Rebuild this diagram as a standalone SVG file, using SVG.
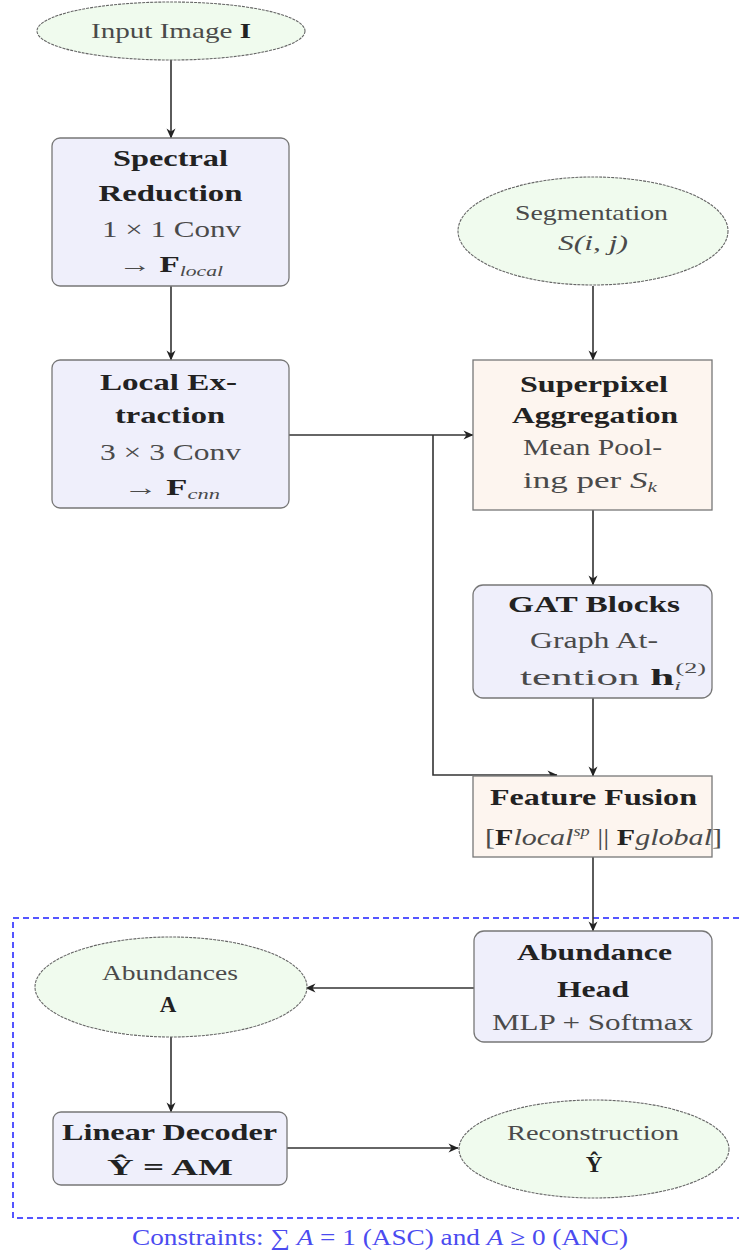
<svg xmlns="http://www.w3.org/2000/svg" width="739" height="1257" viewBox="0 0 739 1257">
<defs>
<marker id="ah" viewBox="0 0 10 10" refX="9.5" refY="5" markerWidth="11" markerHeight="10" markerUnits="userSpaceOnUse" orient="auto">
<path d="M0,0.5 L10,5 L0,9.5 L3,5 Z" fill="#222"/>
</marker>
<style>
.box{stroke:#777;stroke-width:1.3}
.blue{fill:#efeffb}
.orange{fill:#fdf5ef}
.ell{fill:#f0fbee;stroke:#666;stroke-width:1.1;stroke-dasharray:3 1}
.t{font-family:"Liberation Serif","Times New Roman",serif;font-size:23px;fill:#4a4a4a;text-anchor:middle}
.b{font-weight:bold;fill:#222}
.e{font-size:21px}
.i{font-style:italic}
.edge{stroke:#333;stroke-width:1.6;fill:none;marker-end:url(#ah)}
</style>
</defs>
<rect width="739" height="1257" fill="#fff"/>

<rect id="loss-region" x="13" y="918" width="740" height="300" fill="none" stroke="#5555ff" stroke-width="2" stroke-dasharray="6 4"/>

<g id="connectors">
<path class="edge" d="M171,60 V138"/>
<path class="edge" d="M171,286 V360"/>
<path class="edge" d="M593,286 V360"/>
<path class="edge" d="M289,435 H473"/>
<path class="edge" d="M433,435 V775 H557"/>
<path class="edge" d="M593,510 V585"/>
<path class="edge" d="M593,698 V776"/>
<path class="edge" d="M593,857 V931"/>
<path class="edge" d="M474,988 H306"/>
<path class="edge" d="M171,1037 V1112"/>
<path class="edge" d="M287,1148 H458"/>
</g>

<g id="input">
<ellipse class="ell" cx="171" cy="31" rx="134" ry="29"/>
<text class="t e" x="171" y="38" textLength="160" lengthAdjust="spacingAndGlyphs">Input Image <tspan class="b">I</tspan></text>
</g>

<g id="spectral">
<rect class="box blue" x="52" y="138" width="237" height="148" rx="8"/>
<text class="t b" x="170.5" y="166" textLength="115" lengthAdjust="spacingAndGlyphs">Spectral</text>
<text class="t b" x="170.5" y="201" textLength="144" lengthAdjust="spacingAndGlyphs">Reduction</text>
<text class="t" x="171.5" y="237" textLength="139" lengthAdjust="spacingAndGlyphs">1 × 1 Conv</text>
<text class="t" x="170.5" y="272" textLength="105" lengthAdjust="spacingAndGlyphs">→ <tspan class="b">F</tspan><tspan class="i" font-size="15" dy="4">local</tspan></text>
</g>

<g id="local">
<rect class="box blue" x="52" y="360" width="237" height="148" rx="8"/>
<text class="t b" x="168.5" y="390" textLength="137" lengthAdjust="spacingAndGlyphs">Local Ex-</text>
<text class="t b" x="170" y="423" textLength="110" lengthAdjust="spacingAndGlyphs">traction</text>
<text class="t" x="170.5" y="460" textLength="141" lengthAdjust="spacingAndGlyphs">3 × 3 Conv</text>
<text class="t" x="171.5" y="495" textLength="97" lengthAdjust="spacingAndGlyphs">→ <tspan class="b">F</tspan><tspan class="i" font-size="15" dy="4">cnn</tspan></text>
</g>

<g id="segmentation">
<ellipse class="ell" cx="593" cy="231" rx="135" ry="54"/>
<text class="t e" x="591.5" y="220" textLength="153" lengthAdjust="spacingAndGlyphs">Segmentation</text>
<text class="t e i" x="593" y="250" textLength="70" lengthAdjust="spacingAndGlyphs">S(i, j)</text>
</g>

<g id="superpixel">
<rect class="box orange" x="473" y="360" width="239" height="150"/>
<text class="t b" x="594" y="392" textLength="148" lengthAdjust="spacingAndGlyphs">Superpixel</text>
<text class="t b" x="595" y="423" textLength="166" lengthAdjust="spacingAndGlyphs">Aggregation</text>
<text class="t" x="592.5" y="455" textLength="139" lengthAdjust="spacingAndGlyphs">Mean Pool-</text>
<text class="t" x="590" y="488" textLength="134" lengthAdjust="spacingAndGlyphs">ing per <tspan class="i">S</tspan><tspan class="i" font-size="14" dy="4">k</tspan></text>
</g>

<g id="gat">
<rect class="box blue" x="473" y="585" width="239" height="113" rx="10"/>
<text class="t b" x="594" y="612" textLength="172" lengthAdjust="spacingAndGlyphs">GAT Blocks</text>
<text class="t" x="594" y="648" textLength="128" lengthAdjust="spacingAndGlyphs">Graph At-</text>
<text class="t" x="613" y="685" textLength="186" lengthAdjust="spacingAndGlyphs">tention <tspan class="b">h</tspan><tspan class="i" font-size="13" dy="5">i</tspan><tspan font-size="14" dx="-3" dy="-17">(2)</tspan></text>
</g>

<g id="fusion">
<rect class="box orange" x="473" y="776" width="239" height="81"/>
<text class="t b" x="593.5" y="805" textLength="207" lengthAdjust="spacingAndGlyphs">Feature Fusion</text>
<text class="t" x="603.5" y="845" textLength="237" lengthAdjust="spacingAndGlyphs">[<tspan class="b">F</tspan><tspan class="i">local</tspan><tspan class="i" font-size="14" dy="-9">sp</tspan><tspan dy="9"> || </tspan><tspan class="b">F</tspan><tspan class="i">global</tspan>]</text>
</g>

<g id="abundance-head">
<rect class="box blue" x="474" y="931" width="238" height="111" rx="10"/>
<text class="t b" x="594.5" y="960" textLength="155" lengthAdjust="spacingAndGlyphs">Abundance</text>
<text class="t b" x="593" y="997" textLength="72" lengthAdjust="spacingAndGlyphs">Head</text>
<text class="t" x="592.5" y="1030" textLength="201" lengthAdjust="spacingAndGlyphs">MLP + Softmax</text>
</g>

<g id="abundances">
<ellipse class="ell" cx="171" cy="987" rx="136" ry="50"/>
<text class="t e" x="170" y="980" textLength="136" lengthAdjust="spacingAndGlyphs">Abundances</text>
<text class="t b" x="168" y="1012" font-size="23">A</text>
</g>

<g id="decoder">
<rect class="box blue" x="53" y="1112" width="234" height="73" rx="8"/>
<text class="t b" x="169.5" y="1140" textLength="215" lengthAdjust="spacingAndGlyphs">Linear Decoder</text>
<text class="t b" x="170" y="1175" textLength="126" lengthAdjust="spacingAndGlyphs">Ŷ = AM</text>
</g>

<g id="reconstruction">
<ellipse class="ell" cx="594" cy="1149" rx="135" ry="49"/>
<text class="t e" x="593" y="1140" textLength="172" lengthAdjust="spacingAndGlyphs">Reconstruction</text>
<text class="t b" x="594" y="1172" font-size="23">Ŷ</text>
</g>

<text class="t" x="380" y="1245" font-size="18" style="fill:#4b4bf0" textLength="496" lengthAdjust="spacingAndGlyphs">Constraints: ∑ <tspan class="i">A</tspan> = 1 (ASC) and <tspan class="i">A</tspan> ≥ 0 (ANC)</text>
</svg>
